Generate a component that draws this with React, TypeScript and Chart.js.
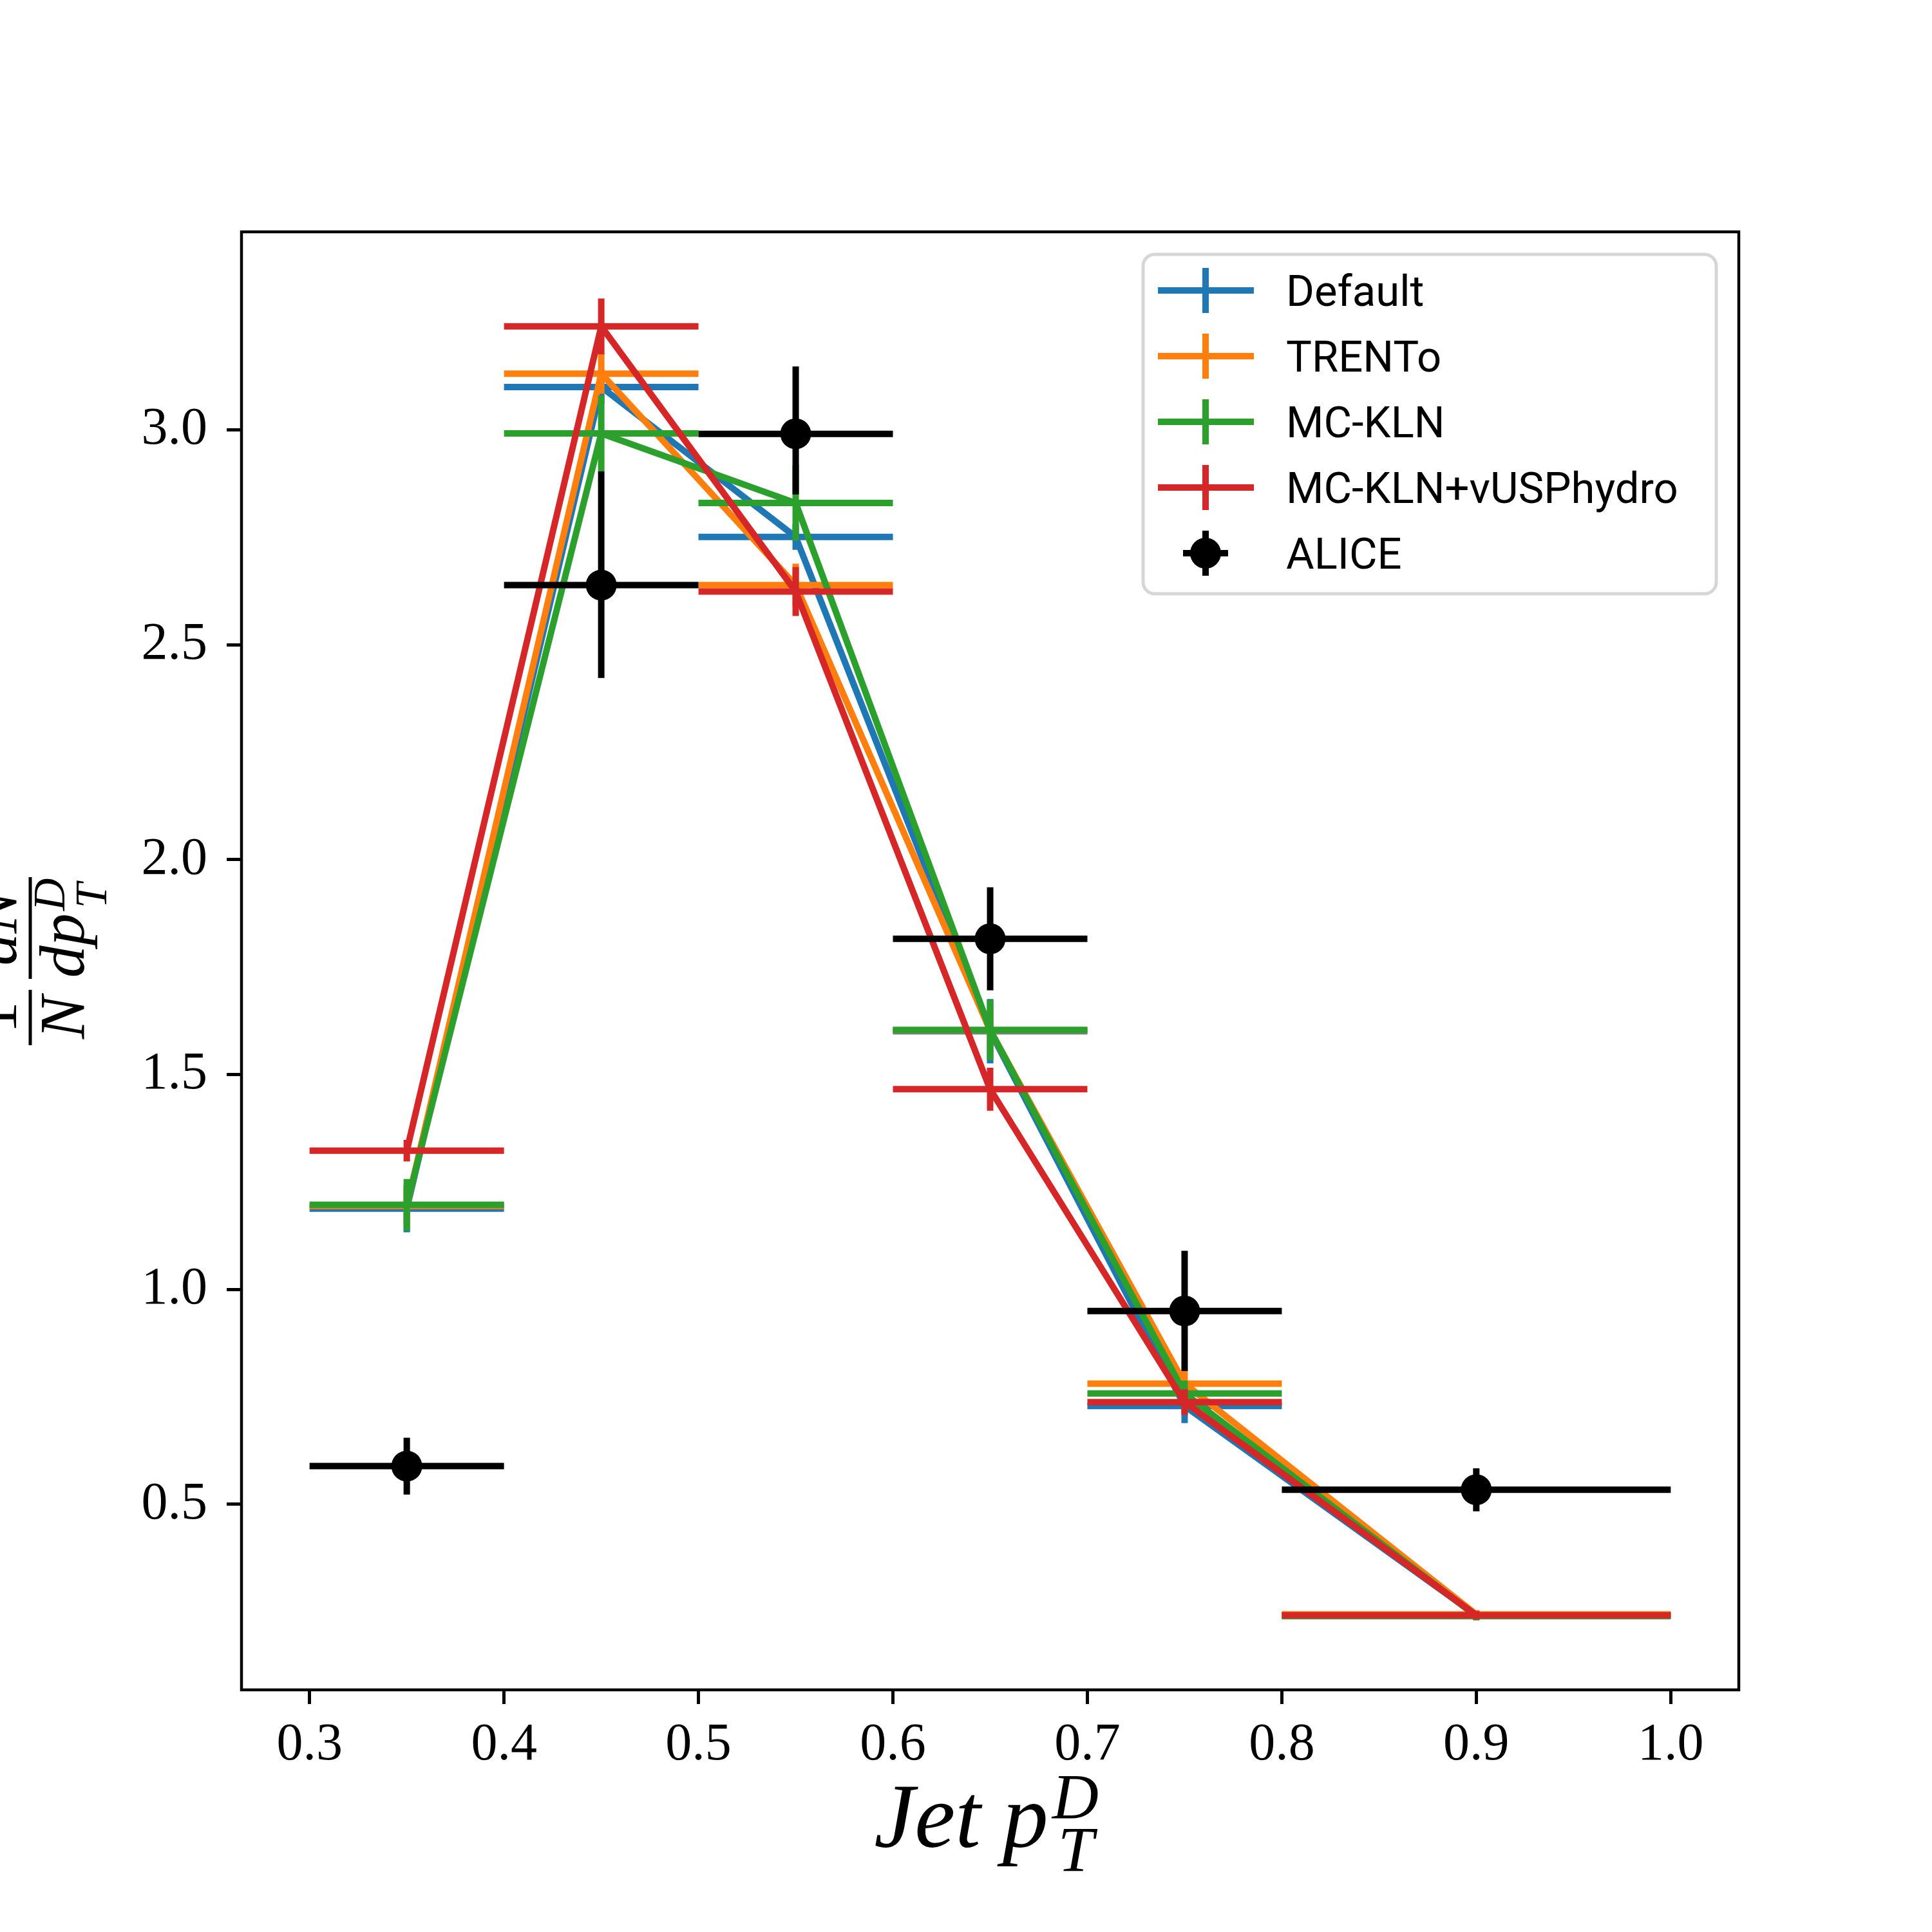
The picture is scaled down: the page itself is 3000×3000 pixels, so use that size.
import { useEffect, useRef } from 'react'
import { Chart, registerables } from 'chart.js'

Chart.register(...registerables)

// bins of jet p_T^D
const binCenters = [0.35, 0.45, 0.55, 0.65, 0.75, 0.9]
const binLow = [0.3, 0.4, 0.5, 0.6, 0.7, 0.8]
const binHigh = [0.4, 0.5, 0.6, 0.7, 0.8, 1.0]

const defaultY = [1.188, 3.1, 2.751, 1.601, 0.729, 0.242]
const defaultErr = [0.055, 0.04, 0.03, 0.075, 0.04, 0.01]

const trentoY = [1.194, 3.131, 2.639, 1.603, 0.781, 0.244]
const trentoErr = [0.04, 0.047, 0.05, 0.05, 0.03, 0.01]

const mcklnY = [1.197, 2.992, 2.83, 1.604, 0.758, 0.24]
const mcklnErr = [0.06, 0.088, 0.088, 0.07, 0.03, 0.01]

const vusphydroY = [1.323, 3.241, 2.624, 1.466, 0.738, 0.242]
const vusphydroErr = [0.025, 0.065, 0.057, 0.05, 0.03, 0.01]

const aliceY = [0.589, 2.639, 2.991, 1.816, 0.95, 0.534]
const aliceErrLow = [0.066, 0.216, 0.141, 0.12, 0.14, 0.05]
const aliceErrHigh = [0.066, 0.265, 0.157, 0.12, 0.14, 0.05]

const xTicks = [0.3, 0.4, 0.5, 0.6, 0.7, 0.8, 0.9, 1.0]
const yTicks = [0.5, 1.0, 1.5, 2.0, 2.5, 3.0]

const legendLabels = ['Default', 'TRENTo', 'MC-KLN', 'MC-KLN+vUSPhydro', 'ALICE']
const colors = ['#1f77b4', '#ff7f0e', '#2ca02c', '#d62728', '#000000']

const SERIF = '"Liberation Serif", "DejaVu Serif", serif'

type Run = { t: string; size: number; dy?: number; dx?: number; upright?: boolean; keep?: boolean }

function setFont(ctx: CanvasRenderingContext2D, r: Run) {
  ctx.font = `${r.upright ? '' : 'italic '}${r.size}px ${SERIF}`
}

function runsWidth(ctx: CanvasRenderingContext2D, runs: Run[]) {
  let x = 0
  let w = 0
  for (const r of runs) {
    setFont(ctx, r)
    x += r.dx || 0
    const rw = ctx.measureText(r.t).width
    w = Math.max(w, x + rw)
    if (!r.keep) x += rw
  }
  return w
}

function drawRuns(ctx: CanvasRenderingContext2D, runs: Run[], x: number, y: number) {
  let cx = x
  for (const r of runs) {
    setFont(ctx, r)
    cx += r.dx || 0
    ctx.fillText(r.t, cx, y + (r.dy || 0))
    if (!r.keep) cx += ctx.measureText(r.t).width
  }
}

const makeSeries = (i: number, ys: number[], errLo: number[], errHi: number[], order: number) => ({
  label: legendLabels[i],
  data: binCenters.map((x, k) => ({ x, y: ys[k] })),
  errLow: errLo,
  errHigh: errHi,
  borderColor: colors[i],
  backgroundColor: colors[i],
  borderWidth: 10,
  borderJoinStyle: 'round' as const,
  showLine: i < 4,
  pointRadius: i < 4 ? 0 : 24,
  pointHoverRadius: i < 4 ? 0 : 24,
  pointBorderWidth: 0,
  pointBackgroundColor: colors[i],
  order,
})

const errorBars = {
  id: 'errorBars',
  afterDatasetDraw(chart: any, args: any) {
    const ds = chart.data.datasets[args.index]
    const { ctx, chartArea, scales } = chart
    ctx.save()
    ctx.beginPath()
    ctx.rect(chartArea.left, chartArea.top, chartArea.width, chartArea.height)
    ctx.clip()
    ctx.strokeStyle = ds.borderColor
    ctx.lineWidth = 10
    ctx.lineCap = 'butt'
    ds.data.forEach((p: any, k: number) => {
      const px = scales.x.getPixelForValue(p.x)
      const py = scales.y.getPixelForValue(p.y)
      ctx.beginPath()
      ctx.moveTo(scales.x.getPixelForValue(binLow[k]), py)
      ctx.lineTo(scales.x.getPixelForValue(binHigh[k]), py)
      ctx.moveTo(px, scales.y.getPixelForValue(p.y - ds.errLow[k]))
      ctx.lineTo(px, scales.y.getPixelForValue(p.y + ds.errHigh[k]))
      ctx.stroke()
    })
    ctx.restore()
  },
}

const decor = {
  id: 'decor',
  afterDatasetsDraw(chart: any) {
    const { ctx, chartArea } = chart
    ctx.save()
    // frame
    ctx.strokeStyle = '#000'
    ctx.lineWidth = 4.5
    ctx.strokeRect(chartArea.left, chartArea.top, chartArea.width, chartArea.height)

    // legend
    ctx.beginPath()
    ctx.roundRect(1775, 395, 890, 527, 18)
    ctx.fillStyle = 'rgba(255,255,255,0.8)'
    ctx.fill()
    ctx.strokeStyle = '#d6d6d6'
    ctx.lineWidth = 5
    ctx.stroke()
    legendLabels.forEach((label, i) => {
      const cy = 451 + i * 102
      const cx = 1872
      ctx.strokeStyle = colors[i]
      ctx.lineWidth = 10
      ctx.lineCap = 'butt'
      ctx.beginPath()
      if (i < 4) {
        ctx.moveTo(1798, cy)
        ctx.lineTo(1947, cy)
      } else {
        ctx.moveTo(cx - 35, cy)
        ctx.lineTo(cx + 35, cy)
      }
      ctx.moveTo(cx, cy - 35)
      ctx.lineTo(cx, cy + 35)
      ctx.stroke()
      if (i === 4) {
        ctx.fillStyle = '#000'
        ctx.beginPath()
        ctx.arc(cx, cy, 24, 0, Math.PI * 2)
        ctx.fill()
      }
      ctx.fillStyle = '#000'
      ctx.font = '67px Roboto'
      ctx.textAlign = 'left'
      ctx.textBaseline = 'alphabetic'
      ctx.fillText(label, 1997, cy + 24)
    })
    ctx.restore()
  },
  afterDraw(chart: any) {
    const { ctx, chartArea } = chart
    ctx.save()
    ctx.fillStyle = '#000'
    ctx.textAlign = 'left'
    ctx.textBaseline = 'alphabetic'

    // x axis title: Jet p_T^D
    const xRuns: Run[] = [
      { t: 'Jet', size: 142 },
      { t: 'p', size: 142, dx: 34 },
      { t: 'D', size: 100, dy: -45, dx: 6, keep: true },
      { t: 'T', size: 100, dy: 37, dx: 9 },
    ]
    const xw = runsWidth(ctx, xRuns)
    drawRuns(ctx, xRuns, (chartArea.left + chartArea.right) / 2 - xw / 2 - 6, 2868)

    // y axis title: (1/N) dN/dp_T^D, rotated
    ctx.translate(47, (chartArea.top + chartArea.bottom) / 2)
    ctx.rotate(-Math.PI / 2)
    const frac = (num: Run[], den: Run[], u0: number, u1: number) => {
      ctx.fillRect(u0, -2.5, u1 - u0, 5)
      const mid = (u0 + u1) / 2
      drawRuns(ctx, num, mid - runsWidth(ctx, num) / 2, -22)
      drawRuns(ctx, den, mid - runsWidth(ctx, den) / 2, 83)
    }
    frac([{ t: '1', size: 100, upright: true }], [{ t: 'N', size: 100 }], -131, -45)
    frac(
      [{ t: 'dN', size: 100 }],
      [
        { t: 'dp', size: 100 },
        { t: 'D', size: 70, dy: -30, dx: 4, keep: true },
        { t: 'T', size: 70, dy: 35, dx: 4 },
      ],
      -28,
      130
    )
    ctx.restore()
  },
}

export default function App() {
  const chartRef = useRef<HTMLCanvasElement>(null)
  const chartInstance = useRef<Chart | null>(null)

  useEffect(() => {
    document.body.style.margin = '0'
    if (!chartRef.current) return
    if (chartInstance.current) chartInstance.current.destroy()
    const ctx = chartRef.current.getContext('2d')
    if (!ctx) return

    const tickFont = { family: SERIF, size: 82 }

    chartInstance.current = new Chart(ctx, {
      type: 'scatter',
      data: {
        datasets: [
          makeSeries(0, defaultY, defaultErr, defaultErr, 4),
          makeSeries(1, trentoY, trentoErr, trentoErr, 3),
          makeSeries(2, mcklnY, mcklnErr, mcklnErr, 2),
          makeSeries(3, vusphydroY, vusphydroErr, vusphydroErr, 1),
          makeSeries(4, aliceY, aliceErrLow, aliceErrHigh, 0),
        ] as any,
      },
      options: {
        responsive: false,
        animation: false,
        devicePixelRatio: 1,
        layout: { padding: { left: 0, right: 300, top: 360, bottom: 0 } },
        plugins: {
          legend: { display: false },
          tooltip: { enabled: false },
        },
        events: [],
        scales: {
          x: {
            type: 'linear',
            min: 0.265,
            max: 1.035,
            afterBuildTicks: (s: any) => {
              s.ticks = xTicks.map((value) => ({ value }))
            },
            afterFit: (s: any) => {
              s.height = 376
            },
            ticks: {
              font: tickFont,
              color: '#000',
              padding: 15,
              autoSkip: false,
              maxRotation: 0,
              callback: (v: any) => Number(v).toFixed(1),
            },
            grid: {
              drawOnChartArea: false,
              drawTicks: true,
              tickLength: 22,
              tickWidth: 5,
              tickColor: '#000',
            },
            border: { display: false },
          },
          y: {
            type: 'linear',
            min: 0.0684,
            max: 3.461,
            afterBuildTicks: (s: any) => {
              s.ticks = yTicks.map((value) => ({ value }))
            },
            afterFit: (s: any) => {
              s.width = 375
            },
            ticks: {
              font: tickFont,
              color: '#000',
              padding: 30,
              autoSkip: false,
              callback: (v: any) => Number(v).toFixed(1),
            },
            grid: {
              drawOnChartArea: false,
              drawTicks: true,
              tickLength: 23,
              tickWidth: 5,
              tickColor: '#000',
            },
            border: { display: false },
          },
        },
      },
      plugins: [errorBars, decor],
    })

    return () => {
      if (chartInstance.current) {
        chartInstance.current.destroy()
        chartInstance.current = null
      }
    }
  }, [])

  return (
    <div style={{ width: 3000, height: 3000, background: '#fff' }}>
      <canvas ref={chartRef} width={3000} height={3000} />
    </div>
  )
}
